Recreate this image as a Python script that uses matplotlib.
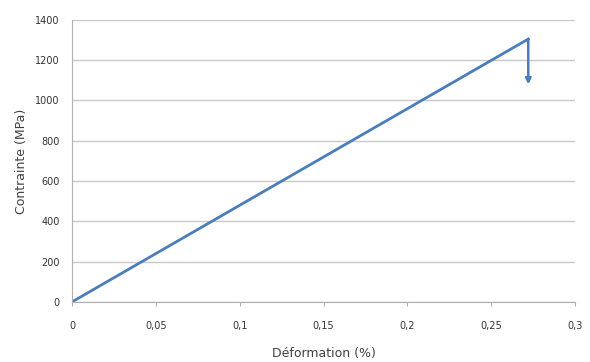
import matplotlib.pyplot as plt
from matplotlib.ticker import FuncFormatter

# Courbe contrainte-déformation
strain = [0.0, 0.272]
stress = [0, 1305]
rupture_strain = 0.272
rupture_end = 1080

xticks = [0, 0.05, 0.1, 0.15, 0.2, 0.25, 0.3]
yticks = [0, 200, 400, 600, 800, 1000, 1200, 1400]

blue = '#4a7ebb'

fig = plt.figure(figsize=(5.9, 3.62), dpi=100)
ax = fig.add_axes([0.122, 0.166, 0.853, 0.779])

ax.plot(strain, stress, color=blue, lw=2)
ax.annotate('', xy=(rupture_strain, rupture_end), xytext=(rupture_strain, stress[-1]),
            arrowprops=dict(arrowstyle='-|>', color=blue, lw=1.8, mutation_scale=8,
                            shrinkA=0, shrinkB=0))

ax.set_xlim(0, 0.3)
ax.set_ylim(0, 1400)
ax.set_xticks(xticks)
ax.set_yticks(yticks)
ax.xaxis.set_major_formatter(FuncFormatter(lambda v, p: ('%g' % v).replace('.', ',')))

ax.grid(axis='y', color='#c8c8c8', lw=1)
ax.set_axisbelow(True)
for s in ['top', 'right']:
    ax.spines[s].set_visible(False)
for s in ['left', 'bottom']:
    ax.spines[s].set_color('#b0b0b0')
ax.tick_params(axis='both', labelsize=7, colors='#b0b0b0', labelcolor='#333333', length=3)
ax.tick_params(axis='y', length=0, pad=9)
ax.tick_params(axis='x', pad=11)

ax.set_xlabel('Déformation (%)', fontsize=9, color='#404040', labelpad=11)
ax.set_ylabel('Contrainte (MPa)', fontsize=9, color='#404040', labelpad=5)

fig.savefig('out.png')
